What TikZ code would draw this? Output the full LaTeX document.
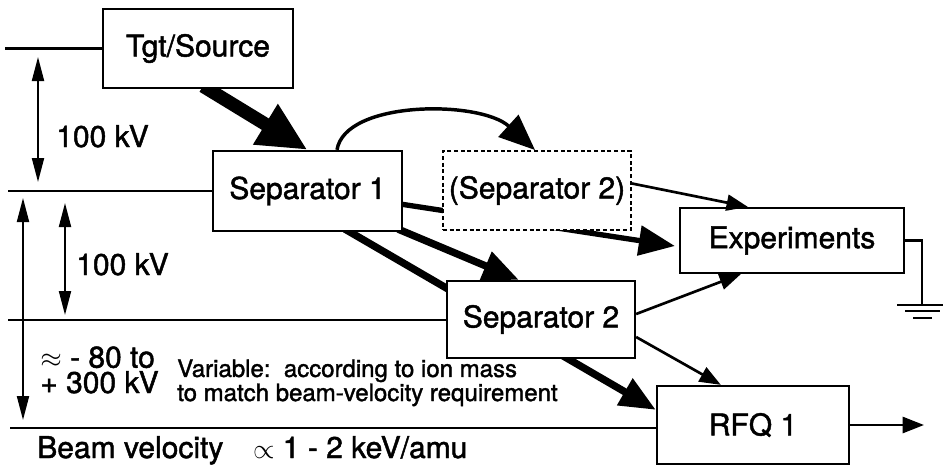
\documentclass[tikz,border=0pt]{standalone}
\usepackage{fontspec}
\setmainfont{TeX Gyre Heros}[FakeBold=1.5]
\usetikzlibrary{arrows.meta,calc,backgrounds}

\begin{document}
\begin{tikzpicture}[x=0.75pt,y=-0.75pt,
  box/.style={draw,line width=1.7pt,fill=white,inner sep=0pt,
    font=\fontsize{22.5}{26}\selectfont},
  optbox/.style={box,dash pattern=on 3pt off 2pt,line width=1.5pt},
  lbl/.style={inner sep=0pt,font=\fontsize{22.5}{19}\selectfont},
  note/.style={inner sep=0pt,font=\fontsize{18}{16}\selectfont},
  rail/.style={line width=1.6pt},
  span/.style={line width=1.5pt,
    {Triangle[length=18pt,width=9pt]}-{Triangle[length=18pt,width=9pt]}},
  mainbeam/.style={line width=10pt,-{Triangle[length=37pt,width=33pt]}},
  beam/.style={line width=#1,-{Triangle[length=27pt,width=22pt]}},
  thin/.style={line width=2pt,-{Triangle[length=16pt,width=12pt]}},
]
\useasboundingbox (0,0) rectangle (944,471);

% stations
\node[box,minimum width=142.5pt,minimum height=59.25pt] (tgt) at (198,48.5) {Tgt/Source};
\node[box,minimum width=141.75pt,minimum height=60pt] (sepA) at (307.5,191) {Separator 1};
\node[optbox,minimum width=141pt,minimum height=59.25pt] (sepOpt) at (537,190.5) {(Separator 2)};
\node[box,minimum width=168pt,minimum height=48.75pt] (exp) at (792,240.5) {Experiments\hspace{15pt}};
\node[box,minimum width=141pt,minimum height=57.75pt] (sepB) at (541,319.5) {Separator 2\hspace{12pt}};
\node[box,minimum width=144pt,minimum height=58.5pt] (rfq) at (753,425) {RFQ 1};

% potential levels
\coordinate (lvA) at (5,48.5);
\coordinate (lvB) at (8,191);
\coordinate (lvC) at (8,320);
\coordinate (lvD) at (10,428);
\draw[rail] (lvA) -- (tgt.west);
\draw[rail] (lvB) -- (sepA.west);
\draw[rail] (lvC) -- (lvC -| sepB.west);
\draw[rail] (lvD) -- (lvD -| rfq.west);

% voltage spans
\coordinate (vA1) at (38,57);  \coordinate (vA2) at (38,182);
\coordinate (vB1) at (65,203); \coordinate (vB2) at (65,315);
\coordinate (vC1) at (23,198); \coordinate (vC2) at (23,420);
\draw[span] (vA1) -- (vA2);
\draw[span] (vB1) -- (vB2);
\draw[span] (vC1) -- (vC2);

% beam paths (behind the boxes)
\begin{scope}[on background layer]
  \draw[mainbeam] ($(tgt.south)+(5,-3)$) -- (sepA.north);
  \draw[beam=5.5pt] ($(sepA.south east)+(-5,-3)$) -- ($(sepB.north west)+(73,0)$);
  \draw[beam=5.5pt] ($(sepA.south)+(37.5,-3)$) -- ($(rfq.north west)+(0,25)$);
  \draw[beam=4pt] ($(sepA.east)+(-3,13)$) -- ($(exp.west)+(-4,5.5)$);
\end{scope}
\draw[beam=2.6pt] ($(sepA.north)+(29.5,0)$) .. controls (345,100) and (480,100) .. ($(sepOpt.north)+(-2,0)$);

% branches
\coordinate (rfqout) at (924,425);
\draw[thin] ($(sepOpt.east)+(0,-7)$) -- ($(exp.north west)+(69,0)$);
\draw[thin] ($(sepB.east)+(0,-5.5)$) -- ($(exp.south west)+(62,0)$);
\draw[thin] ($(sepB.east)+(0,17.5)$) -- ($(rfq.north west)+(65,0)$);
\draw[thin] (rfq.east) -- (rfqout);

% ground
\coordinate (gnd) at (922,305);
\draw[rail] (exp.east) -| (gnd);
\draw[rail] ($(gnd)+(-25,0)$) -- ($(gnd)+(21,0)$);
\draw[rail] ($(gnd)+(-17,6)$) -- ($(gnd)+(18,6)$);
\draw[rail] ($(gnd)+(-9,13)$) -- ($(gnd)+(10,13)$);

% labels (multi-line nodes are anchored at the baseline of their last line)
\node[lbl,anchor=base west] (kvA) at (56,147) {100 kV};
\node[lbl,anchor=base west] (kvB) at (76,275) {100 kV};
\node[lbl,anchor=base west,align=left] (rng) at (40,393) {$\approx$ - 80 to\\+ 300 kV};
\node[note,anchor=base west,align=left] (var) at (177,401) {Variable:\ \ according to ion mass\\to match beam-velocity requirement};
\node[lbl,anchor=base west] (vel) at (37,458) {Beam velocity\hspace{16pt} $\propto$ 1 - 2 keV/amu};
\end{tikzpicture}
\end{document}
